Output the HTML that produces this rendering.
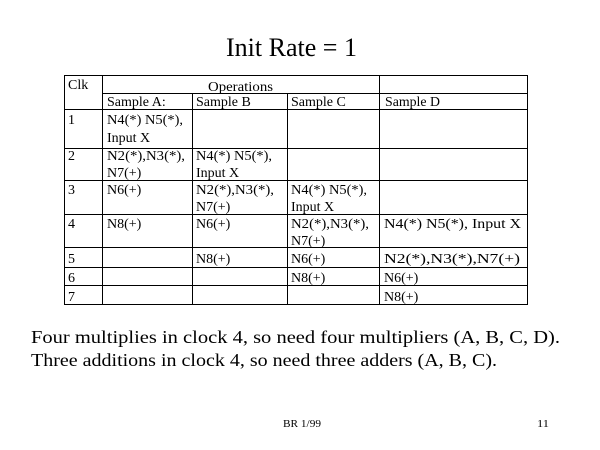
<!DOCTYPE html>
<html><head><style>
body{margin:0;background:#fff;}
svg{display:block;}
text{font-family:"Liberation Serif",serif;fill:#000;}
</style></head><body>
<svg width="600" height="450" viewBox="0 0 600 450">
<text x="226" y="56" font-size="26" textLength="131" lengthAdjust="spacingAndGlyphs">Init Rate = 1</text>
<g stroke="#000" stroke-width="1" fill="none">
<rect x="64.5" y="75.5" width="463" height="229"/>
<line x1="102.5" y1="75" x2="102.5" y2="304"/>
<line x1="379.5" y1="75" x2="379.5" y2="304"/>
<line x1="192.5" y1="93" x2="192.5" y2="304"/>
<line x1="287.5" y1="93" x2="287.5" y2="304"/>
<line x1="102" y1="93.5" x2="527" y2="93.5"/>
<line x1="64" y1="109.5" x2="527" y2="109.5"/>
<line x1="64" y1="148.5" x2="527" y2="148.5"/>
<line x1="64" y1="180.5" x2="527" y2="180.5"/>
<line x1="64" y1="214.5" x2="527" y2="214.5"/>
<line x1="64" y1="247.5" x2="527" y2="247.5"/>
<line x1="64" y1="267.5" x2="527" y2="267.5"/>
<line x1="64" y1="285.5" x2="527" y2="285.5"/>
</g>
<g font-size="14">
<text x="68" y="89">Clk</text>
<text x="208" y="91" textLength="65" lengthAdjust="spacingAndGlyphs">Operations</text>
<text x="107" y="106">Sample A:</text>
<text x="196" y="106">Sample B</text>
<text x="291" y="106">Sample C</text>
<text x="385" y="106" textLength="55" lengthAdjust="spacingAndGlyphs">Sample D</text>
<text x="68" y="124">1</text>
<text x="107" y="124" textLength="76" lengthAdjust="spacingAndGlyphs">N4(*) N5(*),</text>
<text x="107" y="142">Input X</text>
<text x="68" y="160">2</text>
<text x="107" y="160" textLength="78" lengthAdjust="spacingAndGlyphs">N2(*),N3(*),</text>
<text x="107" y="177">N7(+)</text>
<text x="196" y="160" textLength="76" lengthAdjust="spacingAndGlyphs">N4(*) N5(*),</text>
<text x="196" y="177">Input X</text>
<text x="68" y="194">3</text>
<text x="107" y="194">N6(+)</text>
<text x="196" y="194" textLength="78" lengthAdjust="spacingAndGlyphs">N2(*),N3(*),</text>
<text x="196" y="211">N7(+)</text>
<text x="291" y="194" textLength="76" lengthAdjust="spacingAndGlyphs">N4(*) N5(*),</text>
<text x="291" y="211">Input X</text>
<text x="68" y="228">4</text>
<text x="107" y="228">N8(+)</text>
<text x="196" y="228">N6(+)</text>
<text x="291" y="228" textLength="78" lengthAdjust="spacingAndGlyphs">N2(*),N3(*),</text>
<text x="291" y="245">N7(+)</text>
<text x="384" y="228" textLength="137" lengthAdjust="spacingAndGlyphs">N4(*) N5(*), Input X</text>
<text x="68" y="263">5</text>
<text x="196" y="263">N8(+)</text>
<text x="291" y="263">N6(+)</text>
<text x="384" y="263" textLength="136" lengthAdjust="spacingAndGlyphs">N2(*),N3(*),N7(+)</text>
<text x="68" y="282">6</text>
<text x="291" y="282">N8(+)</text>
<text x="384" y="282">N6(+)</text>
<text x="68" y="301">7</text>
<text x="384" y="301">N8(+)</text>
</g>
<g font-size="18">
<text x="31" y="343" textLength="529" lengthAdjust="spacingAndGlyphs">Four multiplies in clock 4, so need four multipliers (A, B, C, D).</text>
<text x="31" y="366" textLength="466" lengthAdjust="spacingAndGlyphs">Three additions in clock 4, so need three adders (A, B, C).</text>
</g>
<g font-size="11">
<text x="283" y="427" textLength="38" lengthAdjust="spacingAndGlyphs">BR 1/99</text>
<text x="537" y="427" textLength="12" lengthAdjust="spacingAndGlyphs">11</text>
</g>
</svg>
</body></html>
